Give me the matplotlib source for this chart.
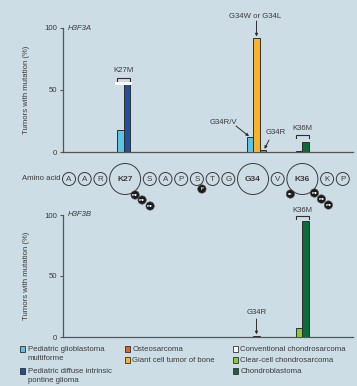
import matplotlib
matplotlib.use("Agg")
import matplotlib.pyplot as plt
from matplotlib.patches import Circle, Rectangle

plt.rcParams["font.family"] = ["Liberation Sans", "DejaVu Sans"]

# ---- data -------------------------------------------------------------
sequence = ["A", "A", "R", "K27", "S", "A", "P", "S", "T", "G", "G34", "V", "K36", "K", "P"]
hotspots = ["K27", "G34", "K36"]

series_names = {
    "gbm": "Pediatric glioblastoma\nmultiforme",
    "dipg": "Pediatric diffuse intrinsic\npontine glioma",
    "osteo": "Osteosarcoma",
    "gctb": "Giant cell tumor of bone",
    "conv": "Conventional chondrosarcoma",
    "ccc": "Clear-cell chondrosarcoma",
    "cb": "Chondroblastoma",
}
series_colors = {
    "gbm": "#5cc3e4",
    "dipg": "#1f4f9e",
    "osteo": "#e2651d",
    "gctb": "#f8b22c",
    "conv": "#ffffff",
    "ccc": "#8cc63f",
    "cb": "#0f6a3a",
}

# H3F3A
a_residue = ["K27", "K27", "G34", "G34", "G34", "K36", "K36"]
a_series = ["gbm", "dipg", "gbm", "gctb", "osteo", "ccc", "cb"]
a_values = [18, 55, 12, 92, 1.5, 1, 8]

# H3F3B
b_residue = ["G34", "K36", "K36"]
b_series = ["osteo", "ccc", "cb"]
b_values = [1, 7, 95]

# ---- layout helpers ---------------------------------------------------
W, H = 357, 386
BG = "#cddde6"
INK = "#3a3a3a"
FS = 5.6

fig = plt.figure(figsize=(W / 100, H / 100), dpi=100)
fig.patch.set_facecolor(BG)

ov = fig.add_axes([0, 0, 1, 1])
ov.set_xlim(0, W)
ov.set_ylim(H, 0)
ov.axis("off")
ov.patch.set_visible(False)


def px_axes(left, top, right, bottom):
    ax = fig.add_axes([left / W, 1 - bottom / H, (right - left) / W, (bottom - top) / H])
    ax.set_zorder(2)
    ax.patch.set_visible(False)
    ax.set_xlim(left, right)
    ax.set_ylim(0, 100)
    for s in ("top", "right"):
        ax.spines[s].set_visible(False)
    for s in ("left", "bottom"):
        ax.spines[s].set_color("#555555")
        ax.spines[s].set_linewidth(0.9)
    ax.set_yticks([0, 50, 100])
    ax.set_xticks([])
    ax.tick_params(axis="y", length=2.5, width=0.8, color="#555555",
                   labelsize=FS, labelcolor=INK, pad=2)
    return ax


ax_a = px_axes(63, 28, 353, 152)
ax_b = px_axes(63, 215, 353, 337)

# residue positions along the peptide
r_small, r_big, gap = 6.5, 15.5, 2.7
pos = []
x = 69.0
for i, res in enumerate(sequence):
    r = r_big if res in hotspots else r_small
    if i > 0:
        prev = sequence[i - 1]
        rp = r_big if prev in hotspots else r_small
        x += rp + r + gap
    pos.append(x)
res_x = {res: pos[sequence.index(res)] for res in hotspots}
group_shift = {"K27": -1.5, "G34": 3.5, "K36": 0.0}
BAR_W = 6.4


def draw_bars(ax, residues, series, values):
    bars = {}
    for res in hotspots:
        idx = [i for i, r in enumerate(residues) if r == res]
        n = len(idx)
        start = res_x[res] + group_shift[res] - n * BAR_W / 2
        for k, i in enumerate(idx):
            left = start + k * BAR_W
            ax.bar(left, values[i], width=BAR_W, align="edge",
                   color=series_colors[series[i]], edgecolor="#2f2f2f",
                   linewidth=0.7, zorder=3)
            bars[(res, series[i])] = (left, left + BAR_W, values[i])
    return bars


bars_a = draw_bars(ax_a, a_residue, a_series, a_values)
bars_b = draw_bars(ax_b, b_residue, b_series, b_values)

# break marker on the DIPG bar
l0, _, _ = bars_a[("K27", "gbm")]
_, r1, v = bars_a[("K27", "dipg")]
ax_a.add_patch(Rectangle((l0 - 2, v - 1.2), (r1 - l0) + 4, 3.0,
                         facecolor="white", edgecolor="none", zorder=4))

# gene names
ax_a.text(68, 100, "H3F3A", style="italic", fontsize=FS, color=INK,
          ha="left", va="center", transform=ax_a.transData)
ax_b.text(68, 100, "H3F3B", style="italic", fontsize=FS, color=INK,
          ha="left", va="center", transform=ax_b.transData)

# y labels
for yc in (90, 276):
    ov.text(27, yc, "Tumors with mutation (%)", rotation=90, ha="center",
            va="center", fontsize=FS, color=INK)


def bracket(x0, x1, y, label, ty):
    ov.plot([x0, x0, x1, x1], [y + 2.5, y, y, y + 2.5], color="#2f2f2f", lw=0.8)
    ov.text((x0 + x1) / 2, ty, label, ha="center", va="center", fontsize=FS, color=INK)


def arrow(ax, xy, text, text_xy, start_xy):
    ov.text(text_xy[0], text_xy[1], text, ha="center", va="center",
            fontsize=FS, color=INK)
    ax.annotate("", xy=xy, xycoords="data", xytext=start_xy,
                textcoords=ov.transData, annotation_clip=False,
                arrowprops=dict(arrowstyle="-|>", color="#2f2f2f", lw=0.7,
                                mutation_scale=4, shrinkA=0, shrinkB=1))


# H3F3A annotations
l0, _, _ = bars_a[("K27", "gbm")]
_, r1, _ = bars_a[("K27", "dipg")]
bracket(l0, r1, 78, "K27M", 71)

gl, gr, gv = bars_a[("G34", "gctb")]
arrow(ax_a, ((gl + gr) / 2, gv), "G34W or G34L", (255, 17), ((gl + gr) / 2, 21))
bl, br, bv = bars_a[("G34", "gbm")]
arrow(ax_a, ((bl + br) / 2, bv), "G34R/V", (223, 122), (236, 126))
ol, orr, ovl = bars_a[("G34", "osteo")]
arrow(ax_a, ((ol + orr) / 2 + 1, ovl), "G34R", (276, 133), (269, 140))
kl, _, _ = bars_a[("K36", "ccc")]
_, kr, _ = bars_a[("K36", "cb")]
bracket(kl, kr, 135, "K36M", 128)

# H3F3B annotations
ol, orr, ovl = bars_b[("G34", "osteo")]
arrow(ax_b, ((ol + orr) / 2, ovl), "G34R", ((ol + orr) / 2, 313), ((ol + orr) / 2, 319))
kl, _, _ = bars_b[("K36", "ccc")]
_, kr, _ = bars_b[("K36", "cb")]
bracket(kl, kr, 216, "K36M", 210)

# ---- peptide row -------------------------------------------------------
ROW_Y = 179
ov.text(60, ROW_Y, "Amino acid", ha="right", va="center", fontsize=FS, color=INK)
for res, x in zip(sequence, pos):
    big = res in hotspots
    r = r_big if big else r_small
    ov.add_patch(Circle((x, ROW_Y), r, facecolor="none", edgecolor="#3a3a3a", lw=0.7))
    ov.text(x, ROW_Y + 0.3, res, ha="center", va="center",
            fontsize=6.0 if big else 5.8, color=INK,
            fontweight="bold" if big else "normal")


def mod(x, y, label):
    ov.add_patch(Circle((x, y), 4.2, facecolor="#1c1c1c", edgecolor="#555555", lw=0.4, zorder=5))
    ov.text(x, y + 0.2, label, ha="center", va="center", fontsize=3.1,
            color="white", fontweight="bold", zorder=6)


kx = res_x["K27"]
for dx, dy in [(10, 16), (17, 21), (25, 27)]:
    mod(kx + dx, ROW_Y + dy, "me")
sx = pos[7]
mod(sx + 5, ROW_Y + 10, "P")
kx = res_x["K36"]
mod(kx - 12, ROW_Y + 15, "ac")
for dx, dy in [(12, 14), (19, 20), (26, 26)]:
    mod(kx + dx, ROW_Y + dy, "me")

# ---- legend -----------------------------------------------------------
legend_cells = [
    ("gbm", 20, 349), ("dipg", 20, 371),
    ("osteo", 125, 349), ("gctb", 125, 360),
    ("conv", 233, 349), ("ccc", 233, 360), ("cb", 233, 371),
]
for key, lx, ly in legend_cells:
    ov.add_patch(Rectangle((lx, ly - 2.6), 5.2, 5.2, facecolor=series_colors[key],
                           edgecolor="#2f2f2f", lw=0.6))
    ov.text(lx + 7.5, ly - 3.4, series_names[key], ha="left", va="top",
            fontsize=FS, color=INK, linespacing=1.45)

fig.savefig("out.png", dpi=100, facecolor=BG)
